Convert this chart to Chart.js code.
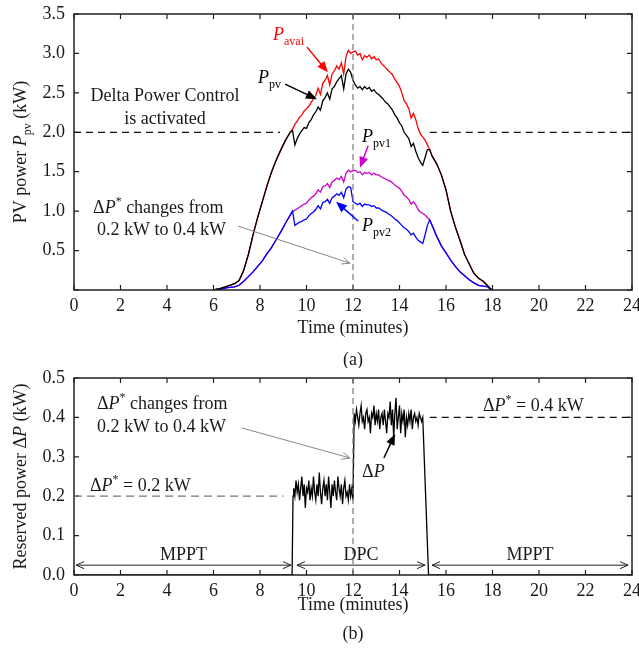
<!DOCTYPE html>
<html>
<head>
<meta charset="utf-8">
<script src="https://cdn.jsdelivr.net/npm/chart.js@4.4.0/dist/chart.umd.min.js"></script>
<style>
  html, body { margin: 0; padding: 0; background: #fff; }
  #wrap { position: relative; width: 639px; height: 656px; }
  canvas { position: absolute; left: 0; }
</style>
</head>
<body>
<div id="wrap">
  <canvas id="pv" width="639" height="368" style="top:0"></canvas>
  <canvas id="dp" width="639" height="288" style="top:368px"></canvas>
</div>
<script>
// ---- (a) PV power, kW vs minutes ----
const timeA = [6.0, 6.3, 6.6, 6.9, 7.1, 7.3, 7.5, 7.7, 7.9, 8.1, 8.3, 8.5, 8.7, 8.9, 9.1, 9.3, 9.4, 9.5,
  9.6, 9.7, 9.8, 9.9, 10.0, 10.1, 10.2, 10.3, 10.4, 10.5,
  10.6, 10.7, 10.8, 10.9, 11.0, 11.1, 11.2, 11.3, 11.4, 11.5,
  11.6, 11.7, 11.8, 11.9, 12.0, 12.1, 12.2, 12.3, 12.4, 12.5,
  12.6, 12.7, 12.8, 12.9, 13.0, 13.1, 13.2, 13.3, 13.4, 13.5,
  13.6, 13.7, 13.8, 13.9, 14.0, 14.1, 14.2, 14.3, 14.4, 14.5,
  14.6, 14.7, 14.8, 14.9, 15.0, 15.1, 15.2, 15.3,
  15.4, 15.6, 15.8, 16.0, 16.2, 16.4, 16.6, 16.8, 17.0, 17.2, 17.4, 17.6, 17.8, 17.9, 18.0];

const pAvai = [0, 0.02, 0.05, 0.08, 0.12, 0.25, 0.45, 0.70, 0.92, 1.12, 1.32, 1.50, 1.65, 1.78, 1.90, 2.00, 2.04, 2.10,
  2.14, 2.19, 2.22, 2.27, 2.30, 2.33, 2.38, 2.42, 2.47, 2.56,
  2.48, 2.62, 2.66, 2.72, 2.60, 2.74, 2.78, 2.84, 2.80, 2.88,
  2.74, 2.96, 3.04, 3.00, 3.02, 3.03, 2.98, 3.00, 2.92, 2.97,
  2.95, 2.98, 2.93, 2.96, 2.92, 2.93, 2.88, 2.85, 2.82, 2.79,
  2.76, 2.73, 2.67, 2.63, 2.58, 2.50, 2.40, 2.36, 2.30, 2.18,
  2.24, 2.16, 2.05, 1.98, 1.94, 1.90, 1.84, 1.78,
  1.70, 1.60, 1.46, 1.27, 1.00, 0.80, 0.63, 0.45, 0.33, 0.21, 0.15, 0.11, 0.05, 0.02, 0];

const pPv = [0, 0.02, 0.05, 0.08, 0.12, 0.25, 0.45, 0.70, 0.92, 1.12, 1.32, 1.50, 1.65, 1.78, 1.90, 2.00, 2.02, 1.84,
  1.92, 1.98, 2.02, 2.06, 2.05, 2.12, 2.16, 2.22, 2.26, 2.32,
  2.28, 2.40, 2.44, 2.50, 2.42, 2.55, 2.58, 2.64, 2.68, 2.72,
  2.55, 2.74, 2.80, 2.76, 2.66, 2.60, 2.56, 2.58, 2.54, 2.58,
  2.55, 2.57, 2.52, 2.54, 2.50, 2.48, 2.45, 2.42, 2.38, 2.36,
  2.32, 2.28, 2.22, 2.18, 2.12, 2.08, 2.00, 1.96, 1.92, 1.82,
  1.86, 1.76, 1.68, 1.62, 1.58, 1.68, 1.78, 1.78,
  1.70, 1.60, 1.46, 1.27, 1.00, 0.80, 0.63, 0.45, 0.33, 0.21, 0.15, 0.11, 0.05, 0.02, 0];

const pPv1 = [0, 0.01, 0.03, 0.04, 0.06, 0.11, 0.17, 0.23, 0.30, 0.37, 0.46, 0.54, 0.64, 0.74, 0.85, 0.95, 1.00, 1.01,
  1.03, 1.05, 1.07, 1.09, 1.10, 1.14, 1.17, 1.19, 1.22, 1.27,
  1.24, 1.31, 1.32, 1.35, 1.30, 1.37, 1.39, 1.42, 1.40, 1.44,
  1.37, 1.48, 1.52, 1.50, 1.51, 1.52, 1.49, 1.50, 1.46, 1.49,
  1.48, 1.49, 1.46, 1.48, 1.46, 1.46, 1.44, 1.42, 1.41, 1.39,
  1.38, 1.36, 1.33, 1.31, 1.29, 1.25, 1.20, 1.18, 1.15, 1.09,
  1.12, 1.08, 1.02, 0.99, 0.97, 0.95, 0.92, 0.89,
  0.82, 0.68, 0.56, 0.47, 0.38, 0.30, 0.23, 0.18, 0.13, 0.09, 0.06, 0.05, 0.04, 0.01, 0];

const pPv2 = [0, 0.01, 0.03, 0.04, 0.06, 0.11, 0.17, 0.23, 0.30, 0.37, 0.46, 0.54, 0.64, 0.74, 0.85, 0.95, 1.00, 0.82,
  0.84, 0.86, 0.87, 0.89, 0.90, 0.94, 0.97, 0.99, 1.02, 1.07,
  1.03, 1.11, 1.12, 1.15, 1.10, 1.17, 1.19, 1.22, 1.20, 1.24,
  1.17, 1.28, 1.31, 1.30, 1.12, 1.10, 1.08, 1.10, 1.06, 1.09,
  1.08, 1.08, 1.06, 1.07, 1.04, 1.04, 1.02, 1.00, 0.99, 0.97,
  0.95, 0.93, 0.90, 0.88, 0.85, 0.82, 0.79, 0.77, 0.74, 0.70,
  0.72, 0.67, 0.63, 0.61, 0.59, 0.70, 0.82, 0.89,
  0.82, 0.68, 0.56, 0.47, 0.38, 0.30, 0.23, 0.18, 0.13, 0.09, 0.06, 0.05, 0.04, 0.01, 0];

// ---- (b) reserved power, kW vs minutes ----
const timeB = [0, 9.38, 9.42,
  9.45, 9.50, 9.55, 9.60, 9.65, 9.70, 9.75, 9.80, 9.85, 9.90,
  9.95, 10.00, 10.05, 10.10, 10.15, 10.20, 10.25, 10.30, 10.35, 10.40,
  10.45, 10.50, 10.55, 10.60, 10.65, 10.70, 10.75, 10.80, 10.85, 10.90,
  10.95, 11.00, 11.05, 11.10, 11.15, 11.20, 11.25, 11.30, 11.35, 11.40,
  11.45, 11.50, 11.55, 11.60, 11.65, 11.70, 11.75, 11.80, 11.85, 11.90,
  11.95, 12.00,
  12.05, 12.10, 12.15, 12.20, 12.25, 12.30, 12.35, 12.40, 12.45, 12.50,
  12.55, 12.60, 12.65, 12.70, 12.75, 12.80, 12.85, 12.90, 12.95, 13.00,
  13.05, 13.10, 13.15, 13.20, 13.25, 13.30, 13.35, 13.40, 13.45, 13.50,
  13.55, 13.60, 13.65, 13.70, 13.75, 13.80, 13.85, 13.90, 13.95, 14.00,
  14.05, 14.10, 14.15, 14.20, 14.25, 14.30, 14.35, 14.40, 14.45, 14.50,
  14.55, 14.60, 14.65, 14.70, 14.75, 14.80, 14.85, 14.90, 14.95, 15.00,
  15.25, 24];

const deltaP = [0, 0, 0.20,
  0.22, 0.20, 0.24, 0.21, 0.23, 0.19, 0.22, 0.25, 0.20, 0.23,
  0.17, 0.22, 0.21, 0.24, 0.19, 0.22, 0.20, 0.25, 0.21, 0.19,
  0.23, 0.20, 0.26, 0.21, 0.18, 0.22, 0.24, 0.20, 0.23, 0.19,
  0.25, 0.21, 0.17, 0.23, 0.20, 0.24, 0.21, 0.19, 0.25, 0.22,
  0.20, 0.23, 0.18, 0.22, 0.24, 0.20, 0.21, 0.19, 0.23, 0.20,
  0.22, 0.19,
  0.41, 0.39, 0.42, 0.40, 0.38, 0.41, 0.43, 0.39, 0.40, 0.37,
  0.41, 0.42, 0.39, 0.40, 0.36, 0.41, 0.40, 0.43, 0.38, 0.41,
  0.39, 0.42, 0.37, 0.40, 0.41, 0.38, 0.42, 0.39, 0.36, 0.41,
  0.40, 0.44, 0.38, 0.42, 0.35, 0.41, 0.45, 0.37, 0.40, 0.43,
  0.36, 0.41, 0.39, 0.42, 0.35, 0.40, 0.38, 0.41, 0.39, 0.42,
  0.37, 0.40, 0.41, 0.39, 0.40, 0.38, 0.41, 0.40, 0.39, 0.40,
  0, 0];

const FONT = 'Liberation Serif';
const INK  = '#1a1a1a';
Chart.defaults.font.family = FONT;
Chart.defaults.font.size   = 18;
Chart.defaults.color       = INK;

const pts = (xs, ys) => xs.map((x, i) => ({ x, y: ys[i] }));

// text made of pieces: {t, i (italic), sub, sup}
function rich(ctx, x, y, parts, align, color) {
  const fontOf = p => (p.i ? 'italic ' : '') + ((p.sub || p.sup) ? 12 : 18) + 'px "' + FONT + '"';
  let w = 0;
  parts.forEach(p => { ctx.font = fontOf(p); w += ctx.measureText(p.t).width; });
  let cx = align === 'center' ? x - w / 2 : x;
  ctx.textAlign = 'left';
  ctx.textBaseline = 'alphabetic';
  ctx.fillStyle = color || INK;
  parts.forEach(p => {
    ctx.font = fontOf(p);
    ctx.fillText(p.t, cx, y + (p.sub ? 5 : p.sup ? -8 : 0));
    cx += ctx.measureText(p.t).width;
  });
}

function arrow(ctx, x1, y1, x2, y2, color, filled) {
  const a = Math.atan2(y2 - y1, x2 - x1);
  const head = filled ? 11 : 8, half = filled ? 4.5 : 3.5;
  ctx.save();
  ctx.setLineDash([]);
  ctx.strokeStyle = color; ctx.fillStyle = color;
  ctx.lineWidth = filled ? 1.5 : 1;
  ctx.beginPath();
  ctx.moveTo(x1, y1);
  ctx.lineTo(x2 - Math.cos(a) * (filled ? head - 2 : 0), y2 - Math.sin(a) * (filled ? head - 2 : 0));
  ctx.stroke();
  const bx = x2 - Math.cos(a) * head, by = y2 - Math.sin(a) * head;
  const nx = -Math.sin(a) * half, ny = Math.cos(a) * half;
  ctx.beginPath();
  ctx.moveTo(bx + nx, by + ny); ctx.lineTo(x2, y2); ctx.lineTo(bx - nx, by - ny);
  if (filled) { ctx.closePath(); ctx.fill(); } else ctx.stroke();
  ctx.restore();
}

function dashed(ctx, x1, y1, x2, y2, color, dash) {
  ctx.save();
  ctx.strokeStyle = color; ctx.lineWidth = 1.2; ctx.setLineDash(dash);
  ctx.beginPath(); ctx.moveTo(x1, y1); ctx.lineTo(x2, y2); ctx.stroke();
  ctx.restore();
}

// box + inward ticks on all four sides
const frame = {
  id: 'frame',
  afterDatasetsDraw(chart) {
    const { ctx, chartArea: a, scales: { x, y } } = chart;
    ctx.save();
    ctx.strokeStyle = '#222'; ctx.lineWidth = 1.5; ctx.setLineDash([]);
    ctx.strokeRect(a.left, a.top, a.right - a.left, a.bottom - a.top);
    ctx.lineWidth = 1.2;
    ctx.beginPath();
    x.ticks.forEach(t => {
      const px = x.getPixelForValue(t.value);
      ctx.moveTo(px, a.bottom); ctx.lineTo(px, a.bottom - 5);
      ctx.moveTo(px, a.top);    ctx.lineTo(px, a.top + 5);
    });
    y.ticks.forEach(t => {
      const py = y.getPixelForValue(t.value);
      ctx.moveTo(a.left, py);  ctx.lineTo(a.left + 5, py);
      ctx.moveTo(a.right, py); ctx.lineTo(a.right - 5, py);
    });
    ctx.stroke();
    ctx.restore();
  }
};

function options(height, bottom, top, yMax, yStep, yFmt) {
  return {
    responsive: false,
    animation: false,
    devicePixelRatio: 1,
    events: [],
    layout: { padding: { top, right: 7, left: 0, bottom: 0 } },
    plugins: { legend: { display: false }, tooltip: { enabled: false } },
    scales: {
      x: {
        type: 'linear', min: 0, max: 24,
        grid: { display: false, drawTicks: false }, border: { display: false },
        ticks: { stepSize: 2, padding: 5, maxRotation: 0, autoSkip: false, color: INK },
        afterFit: s => { s.height = height - bottom; s.paddingLeft = 0; s.paddingRight = 0; }
      },
      y: {
        min: 0, max: yMax,
        grid: { display: false, drawTicks: false }, border: { display: false },
        ticks: { stepSize: yStep, padding: 9, color: INK, callback: yFmt },
        afterFit: s => { s.width = 74; s.paddingTop = 0; s.paddingBottom = 0; }
      }
    }
  };
}

const notesA = {
  id: 'notesA',
  afterDraw(chart) {
    const { ctx, chartArea: a, scales: { x, y } } = chart;
    const X = v => x.getPixelForValue(v), Y = v => y.getPixelForValue(v);
    dashed(ctx, X(0), Y(2), X(8.86), Y(2), '#111', [7, 5]);
    dashed(ctx, X(15.3), Y(2), X(24), Y(2), '#111', [7, 5]);
    dashed(ctx, X(12), a.top, X(12), a.bottom, '#777', [6, 4]);

    rich(ctx, X(3.91), Y(2.40), [{ t: 'Delta Power Control' }], 'center');
    rich(ctx, X(3.91), Y(2.11), [{ t: 'is activated' }], 'center');
    rich(ctx, X(0.82), Y(0.98), [{ t: 'Δ' }, { t: 'P', i: 1 }, { t: '*', sup: 1 }, { t: ' changes from' }]);
    rich(ctx, X(0.99), Y(0.70), [{ t: '0.2 kW to 0.4 kW' }]);
    arrow(ctx, X(7.05), Y(0.81), X(11.87), Y(0.34), '#888', false);

    rich(ctx, X(8.56), Y(3.17), [{ t: 'P', i: 1 }, { t: 'avai', sub: 1 }], 'left', '#ff0000');
    arrow(ctx, X(10.02), Y(3.08), X(10.92), Y(2.76), '#ff0000', true);
    rich(ctx, X(7.91), Y(2.63), [{ t: 'P', i: 1 }, { t: 'pv', sub: 1 }], 'left', '#000');
    arrow(ctx, X(9.08), Y(2.61), X(10.45), Y(2.42), '#000', true);
    rich(ctx, X(12.39), Y(1.88), [{ t: 'P', i: 1 }, { t: 'pv1', sub: 1 }], 'left', '#000');
    arrow(ctx, X(12.65), Y(1.83), X(12.3), Y(1.55), '#cc00cc', true);
    rich(ctx, X(12.39), Y(0.75), [{ t: 'P', i: 1 }, { t: 'pv2', sub: 1 }], 'left', '#000');
    arrow(ctx, X(12.22), Y(0.875), X(11.27), Y(1.12), '#0000ff', true);

    ctx.save();
    ctx.translate(20, (a.top + a.bottom) / 2);
    ctx.rotate(-Math.PI / 2);
    rich(ctx, 0, 6, [{ t: 'PV power ' }, { t: 'P', i: 1 }, { t: 'pv', sub: 1 }, { t: ' (kW)' }], 'center');
    ctx.restore();
    const cx = (a.left + a.right) / 2;
    rich(ctx, cx, 333, [{ t: 'Time (minutes)' }], 'center');
    rich(ctx, cx, 365, [{ t: '(a)' }], 'center');
  }
};

const notesB = {
  id: 'notesB',
  afterDraw(chart) {
    const { ctx, chartArea: a, scales: { x, y } } = chart;
    const X = v => x.getPixelForValue(v), Y = v => y.getPixelForValue(v);
    dashed(ctx, X(0), Y(0.2), X(9.0), Y(0.2), '#777', [8, 5]);
    dashed(ctx, X(15.3), Y(0.4), X(24), Y(0.4), '#111', [7, 5]);
    dashed(ctx, X(12), a.top, X(12), a.bottom, '#777', [6, 4]);

    rich(ctx, X(0.99), Y(0.421), [{ t: 'Δ' }, { t: 'P', i: 1 }, { t: '*', sup: 1 }, { t: ' changes from' }]);
    rich(ctx, X(0.99), Y(0.363), [{ t: '0.2 kW to 0.4 kW' }]);
    arrow(ctx, X(7.23), Y(0.373), X(11.87), Y(0.297), '#888', false);
    rich(ctx, X(0.69), Y(0.213), [{ t: 'Δ' }, { t: 'P', i: 1 }, { t: '*', sup: 1 }, { t: ' = 0.2 kW' }]);
    rich(ctx, X(17.59), Y(0.416), [{ t: 'Δ' }, { t: 'P', i: 1 }, { t: '*', sup: 1 }, { t: ' = 0.4 kW' }]);
    rich(ctx, X(12.39), Y(0.249), [{ t: 'Δ' }, { t: 'P', i: 1 }]);
    arrow(ctx, X(13.33), Y(0.297), X(13.81), Y(0.358), '#000', true);

    const yA = Y(0.025);
    [[0.09, 9.33, 'MPPT'], [9.59, 15.1, 'DPC'], [15.4, 23.83, 'MPPT']].forEach(([t1, t2, lab]) => {
      arrow(ctx, (X(t1) + X(t2)) / 2, yA, X(t1), yA, '#222', false);
      arrow(ctx, (X(t1) + X(t2)) / 2, yA, X(t2), yA, '#222', false);
      rich(ctx, (X(t1) + X(t2)) / 2, Y(0.038), [{ t: lab }], 'center');
    });

    ctx.save();
    ctx.translate(20, (a.top + a.bottom) / 2);
    ctx.rotate(-Math.PI / 2);
    rich(ctx, 0, 6, [{ t: 'Reserved power Δ' }, { t: 'P', i: 1 }, { t: ' (kW)' }], 'center');
    ctx.restore();
    const cx = (a.left + a.right) / 2;
    rich(ctx, cx, 242, [{ t: 'Time (minutes)' }], 'center');
    rich(ctx, cx, 271, [{ t: '(b)' }], 'center');
  }
};

const line = (data, color) => ({
  data, borderColor: color, borderWidth: 1.3, pointRadius: 0, tension: 0, fill: false
});

new Chart(document.getElementById('pv'), {
  type: 'line',
  data: {
    datasets: [
      line(pts(timeA, pPv), '#000000'),
      line(pts(timeA, pPv2), '#0000ff'),
      line(pts(timeA, pAvai), '#ff0000'),
      line(pts(timeA, pPv1), '#cc00cc')
    ]
  },
  options: options(368, 290, 14, 3.5, 0.5, v => (v === 0 ? '' : v.toFixed(1))),
  plugins: [frame, notesA]
});

new Chart(document.getElementById('dp'), {
  type: 'line',
  data: { datasets: [line(pts(timeB, deltaP), '#000000')] },
  options: options(288, 207, 10, 0.5, 0.1, v => v.toFixed(1)),
  plugins: [frame, notesB]
});
</script>
</body>
</html>
